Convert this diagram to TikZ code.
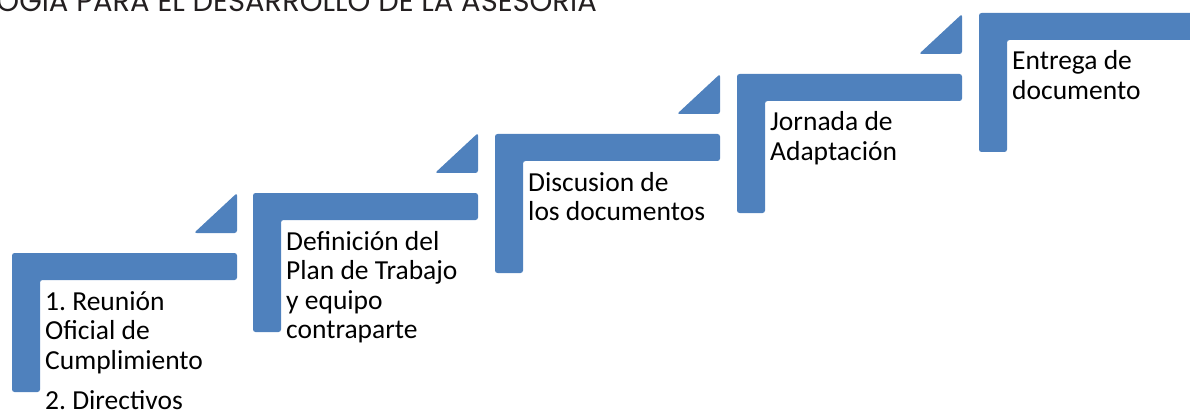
\documentclass[tikz,border=0pt]{standalone}
\usepackage{fontspec}
\setmainfont{Carlito}
\newfontfamily\titlefont{Poppins}
\usetikzlibrary{calc}
\definecolor{stepblue}{RGB}{79,129,189}
\definecolor{titlegray}{RGB}{35,31,32}
\tikzset{
  stepshape/.style={fill=stepblue, draw=none, rounded corners=2.5pt},
  steplabel/.style={anchor=base west, inner sep=0pt, text=black,
    font=\fontsize{27.5}{29.5}\selectfont\frenchspacing},
}
\newcommand{\stairstep}[3]{% #1 name, #2 left, #3 top
  \coordinate (#1) at (#2,#3);
  \fill[stepshape] (#2,#3) -- ++(225,0) -- ++(0,27) -- ++(-197,0) -- ++(0,112) -- ++(-28,0) -- cycle;
  \fill[stepshape] ($(#2,#3)+(182,-20)$) -- ++(43,-40) -- ++(0,40) -- cycle;
}
\begin{document}
\begin{tikzpicture}[x=1pt,y=-1pt]
\useasboundingbox (0,0) rectangle (1190,414);
\clip (0,0) rectangle (1190,414);
\node[anchor=base east, inner sep=0pt, text=titlegray, font=\titlefont\fontsize{29}{29}\selectfont] (title) at (597,12) {OGIA PARA EL DESARROLLO DE LA ASESORIA};
\stairstep{a}{12}{253}
\stairstep{b}{253}{193}
\stairstep{c}{495}{134}
\stairstep{d}{737}{74}
\stairstep{e}{979}{13}
\node[steplabel] (la) at ($(a)+(33,57)$) {\begin{tabular}[t]{@{}l@{}}1. Reunión\\Oficial de\\Cumplimiento\\[11pt]2. Directivos\end{tabular}};
\node[steplabel] (lb) at ($(b)+(33,57)$) {\begin{tabular}[t]{@{}l@{}}Definición del\\Plan de Trabajo\\y equipo\\contraparte\end{tabular}};
\node[steplabel] (lc) at ($(c)+(33,57)$) {\begin{tabular}[t]{@{}l@{}}Discusion de\\los documentos\end{tabular}};
\node[steplabel] (ld) at ($(d)+(33,57)$) {\begin{tabular}[t]{@{}l@{}}Jornada de\\Adaptación\end{tabular}};
\node[steplabel] (le) at ($(e)+(33,57)$) {\begin{tabular}[t]{@{}l@{}}Entrega de\\documento\end{tabular}};
\end{tikzpicture}
\end{document}
